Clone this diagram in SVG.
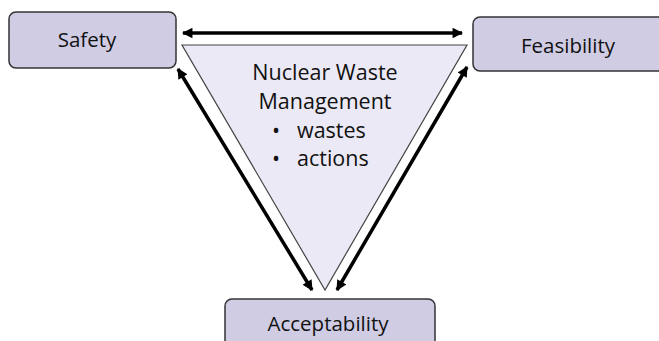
<svg xmlns="http://www.w3.org/2000/svg" width="659" height="341" viewBox="0 0 659 341">
<style>
.box{fill:#cfcce4;stroke:#333;stroke-width:1.5}
.lbl{font-family:"Open Sans","Noto Sans",sans-serif;font-size:20.5px;fill:#111;text-anchor:middle}
.tri{fill:#ebe9f5;stroke:#444;stroke-width:1.2}
.ctr{font-family:"Open Sans","Noto Sans",sans-serif;font-size:21.5px;fill:#111}
.arr{stroke:#000;stroke-width:3.5;fill:none;marker-start:url(#ah);marker-end:url(#ah)}
</style>
<defs>
<marker id="ah" viewBox="0 0 10 10" refX="9" refY="5" markerWidth="3.6" markerHeight="3" orient="auto-start-reverse" markerUnits="strokeWidth">
<path d="M0,0 L10,5 L0,10 z" fill="#000"/>
</marker>
</defs>
<g id="center">
<polygon class="tri" points="182,45 467,45 325,290"/>
<text class="ctr" x="325" y="80" text-anchor="middle">Nuclear Waste</text>
<text class="ctr" x="325" y="109" text-anchor="middle">Management</text>
<text class="ctr" x="272" y="138">•</text>
<text class="ctr" x="297" y="138">wastes</text>
<text class="ctr" x="272" y="166">•</text>
<text class="ctr" x="297" y="166">actions</text>
</g>
<g id="safety">
<rect class="box" x="9" y="12" width="167" height="56" rx="7"/>
<text class="lbl" x="87" y="47">Safety</text>
</g>
<g id="feasibility">
<rect class="box" x="473" y="17" width="200" height="54" rx="7"/>
<text class="lbl" x="568" y="53">Feasibility</text>
</g>
<g id="acceptability">
<rect class="box" x="225" y="299" width="210" height="60" rx="7"/>
<text class="lbl" x="328" y="331">Acceptability</text>
</g>
<g id="connectors">
<line class="arr" x1="183" y1="33" x2="462" y2="33"/>
<line class="arr" x1="178" y1="69" x2="312" y2="290"/>
<line class="arr" x1="467" y1="67" x2="337" y2="290"/>
</g>
</svg>
